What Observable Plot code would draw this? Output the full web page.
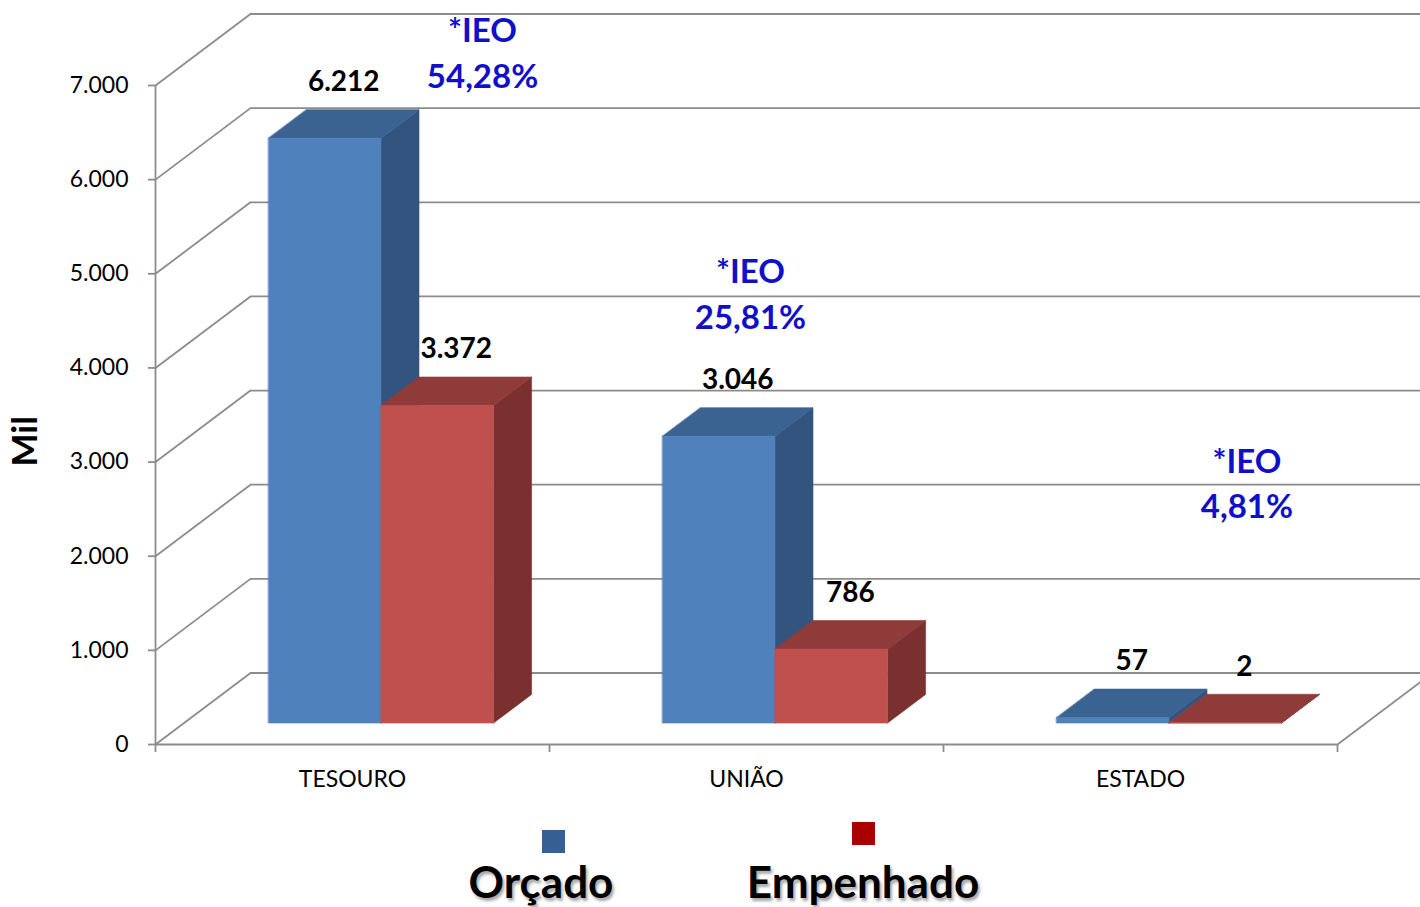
<!DOCTYPE html>
<html>
<head>
<meta charset="utf-8">
<script src="https://cdn.jsdelivr.net/npm/d3@7"></script>
<script src="https://cdn.jsdelivr.net/npm/@observablehq/plot@0.6"></script>
<style>
  html, body { margin: 0; padding: 0; background: #fff; overflow: hidden; }
  #chart svg { overflow: hidden; display: block; }
  #legend { position: relative; width: 1420px; height: 97px; font-family: Lato, "Noto Sans", sans-serif; }
  #legend .sw { position: absolute; width: 23px; height: 23px; }
  #legend .lt { position: absolute; transform: translateX(-50%); font-size: 44px; line-height: 44px; font-weight: 700;
                color: #000; white-space: nowrap; text-shadow: 2px 3px 3px rgba(0,0,0,0.35); }
</style>
</head>
<body>
<div id="chart"></div>
<div id="legend">
  <div class="sw" style="left:542px;top:20px;background:#376092"></div>
  <div class="sw" style="left:852px;top:12px;background:#aa0000"></div>
  <div class="lt" style="left:541px;top:49px">Orçado</div>
  <div class="lt" style="left:863px;top:49px">Empenhado</div>
</div>
<script>
// ---- data ----
const categories = ["TESOURO", "UNIÃO", "ESTADO"];
const seriesNames = ["Orçado", "Empenhado"];
const orcado = [6212, 3046, 57];
const empenhado = [3372, 786, 2];
const ieoLabels = ["54,28%", "25,81%", "4,81%"];
const yTicks = [0, 1000, 2000, 3000, 4000, 5000, 6000, 7000];

// annotation anchors (data units: category position, value)
const ieoAnchorX = [0.83, 1.51, 2.77];
const ieoAnchorY = [7370, 4810, 2800];

// ---- layout / projection ----
const W = 1420, H = 810;
const mL = 155, mR = 83, mT = 85, mB = H - 744;
const pxPerCat = (W - mL - mR) / categories.length;
const pxPerVal = (H - mB - mT) / 7000;
const DX = 95 / pxPerCat;      // depth vector (full depth) in data units
const DY = 71.5 / pxPerVal;
const GAP = 1.5;
const bw = 1 / (2 + GAP);
const sideGap = GAP / 2 * bw;
const zf = 0.3, zb = 0.7;

const locale = d3.formatLocale({decimal: ",", thousands: ".", grouping: [3], currency: ["R$", ""]});
const fmt = locale.format(",");

const P = (x, y, z) => ({x: x + z * DX, y: y + z * DY});

const bars = [];
[orcado, empenhado].forEach((vals, s) => {
  vals.forEach((v, c) => {
    const x0 = c + sideGap + s * bw;
    bars.push({s, c, v, x0, x1: x0 + bw});
  });
});

function faces(s, kind) {
  const out = [];
  bars.filter(b => b.s === s).forEach(b => {
    const id = `${s}-${b.c}-${kind}`;
    let pts;
    if (kind === "front") pts = [P(b.x0, 0, zf), P(b.x1, 0, zf), P(b.x1, b.v, zf), P(b.x0, b.v, zf)];
    else if (kind === "top") pts = [P(b.x0, b.v, zf), P(b.x1, b.v, zf), P(b.x1, b.v, zb), P(b.x0, b.v, zb)];
    else pts = [P(b.x1, 0, zf), P(b.x1, 0, zb), P(b.x1, b.v, zb), P(b.x1, b.v, zf)];
    pts.forEach(p => out.push({...p, id}));
  });
  return out;
}

const colors = [
  {front: "#4f81bd", top: "#3b6391", side: "#32547f"},
  {front: "#c0504d", top: "#8f3b39", side: "#7a302e"}
];

const barMarks = [];
[0, 1].forEach(s => {
  ["side", "top", "front"].forEach(kind => {
    const col = colors[s][kind];
    barMarks.push(Plot.line(faces(s, kind), {
      x: "x", y: "y", z: "id", curve: "linear-closed",
      fill: col, stroke: col, strokeWidth: 0.6
    }));
  });
});

const grid = "#8c8c8c";
const gw = 1.8;
const axisTitleY = 3220; // vertical centre of the rotated "Mil" title, in value units

const chart = Plot.plot({
  width: W, height: H,
  marginLeft: mL, marginRight: mR, marginTop: mT, marginBottom: mB,
  x: {domain: [0, categories.length]},
  y: {domain: [0, 7000]},
  style: {fontFamily: "Lato, 'Noto Sans', sans-serif", background: "#fff", color: "#000"},
  marks: [
    // back wall gridlines
    Plot.ruleY(yTicks, {y: d => d + DY, x1: DX, x2: categories.length + DX, stroke: grid, strokeWidth: gw}),
    // left wall diagonals
    Plot.link(yTicks, {x1: 0, y1: d => d, x2: DX, y2: d => d + DY, stroke: grid, strokeWidth: gw}),
    // floor right edge
    Plot.link([0], {x1: categories.length, y1: 0, x2: categories.length + DX, y2: DY, stroke: grid, strokeWidth: gw}),
    // floor front edge and y axis line
    Plot.ruleY([0], {x1: 0, x2: categories.length, stroke: grid, strokeWidth: gw}),
    Plot.ruleX([0], {y1: 0, y2: 7000, stroke: grid, strokeWidth: gw}),
    Plot.axisY({ticks: yTicks, tickFormat: fmt, tickSize: 7, tickPadding: 20, stroke: grid, strokeWidth: gw,
                fill: "#000", fontSize: 23, label: null}),
    Plot.axisX({ticks: d3.range(categories.length + 1), tickFormat: () => "", tickSize: 8, stroke: grid,
                strokeWidth: gw, label: null}),
    // category labels
    Plot.text(categories, {x: (d, i) => i + 0.5, y: 0, text: d => d, dy: 35, fontSize: 23, fill: "#000"}),
    // y axis title
    Plot.text(["Mil"], {x: 0, y: axisTitleY, text: d => d, dx: -130, rotate: -90, fontSize: 35,
                        fontWeight: "bold", fill: "#000"}),
    // bars
    ...barMarks,
    // data labels
    Plot.text(bars, {x: d => d.x0 + bw / 2 + 0.5 * DX, y: d => d.v + 0.5 * DY, text: d => fmt(d.v),
                     dy: -42, fontSize: 28, fontWeight: "bold", fill: "#000", ariaLabel: "data-label"}),
    // IEO annotations
    Plot.text(ieoLabels, {x: (d, i) => ieoAnchorX[i], y: (d, i) => ieoAnchorY[i], text: d => "*IEO\n" + d,
                          lineHeight: 1.38, fontSize: 33, fontWeight: "bold", fill: "#1010c8", ariaLabel: "ieo"})
  ]
});

document.getElementById("chart").appendChild(chart);
chart.querySelectorAll('[aria-label="data-label"]').forEach(g => g.style.filter = "drop-shadow(2px 2px 1.5px rgba(0,0,0,0.5))");
chart.querySelectorAll('[aria-label="ieo"]').forEach(g => g.style.filter = "drop-shadow(2px 2px 1.5px rgba(0,0,0,0.3))");
</script>
</body>
</html>
